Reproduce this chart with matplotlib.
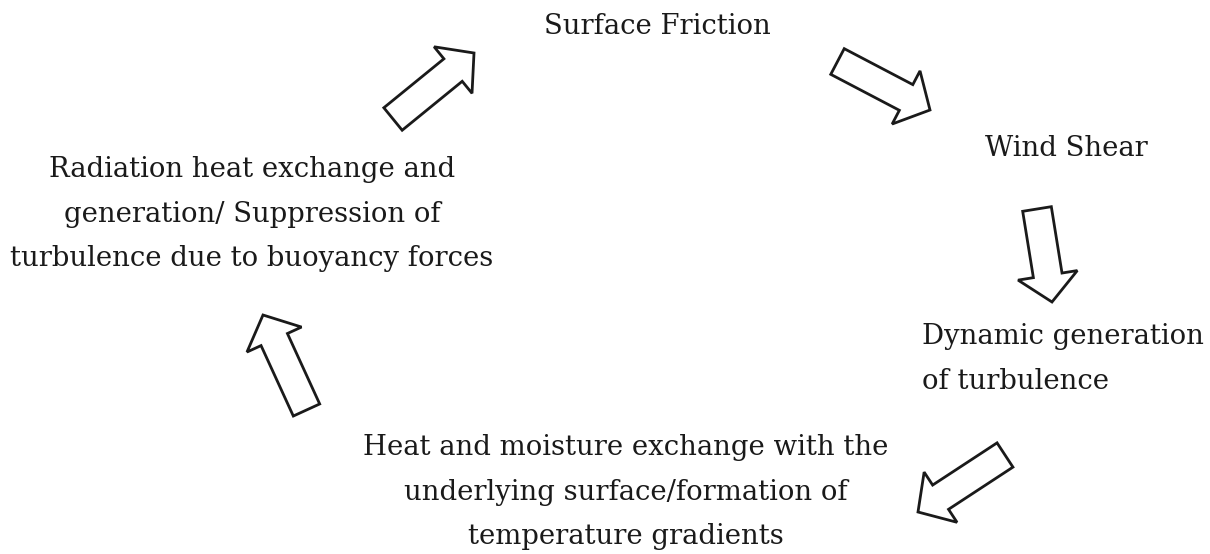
import matplotlib
matplotlib.use('Agg')
import matplotlib.pyplot as plt
import numpy as np
from matplotlib.patches import Polygon

# labels of the cycle and where they sit (pixel coords of the 1210x554 picture)
labels = ["Surface Friction",
          "Wind Shear",
          "Dynamic generation\nof turbulence",
          "Heat and moisture exchange with the\nunderlying surface/formation of\ntemperature gradients",
          "Radiation heat exchange and\ngeneration/ Suppression of\nturbulence due to buoyancy forces"]
label_x = [657, 1066, 922, 626, 252]
label_y = [27, 149, 359, 492, 214]
label_ha = ["center", "center", "left", "center", "center"]

# arrows: tail centre -> tip
tail_x = [393, 837.5, 1037, 1005, 306.5]
tail_y = [119, 61.5, 209, 455, 410]
tip_x = [474, 930, 1052, 918, 263]
tip_y = [53, 110, 302, 512, 315]
shaft_w = 29
head_w = 60
head_len = 27


def arrow_poly(x0, y0, x1, y1):
    d = np.array([x1 - x0, y1 - y0], float)
    L = np.hypot(*d)
    u = d / L
    n = np.array([-u[1], u[0]])
    p0 = np.array([x0, y0], float)
    hb = p0 + u * (L - head_len)
    pts = [p0 + n * shaft_w / 2, hb + n * shaft_w / 2, hb + n * head_w / 2,
           np.array([x1, y1], float), hb - n * head_w / 2, hb - n * shaft_w / 2,
           p0 - n * shaft_w / 2]
    return np.array(pts)


fig = plt.figure(figsize=(12.1, 5.54), dpi=100)
ax = fig.add_axes([0, 0, 1, 1])
ax.set_xlim(0, 1210)
ax.set_ylim(554, 0)
ax.axis('off')

for i in range(len(tail_x)):
    ax.add_patch(Polygon(arrow_poly(tail_x[i], tail_y[i], tip_x[i], tip_y[i]),
                         closed=True, facecolor='white', edgecolor='#1a1a1a',
                         linewidth=2.0, joinstyle='miter'))

for i in range(len(labels)):
    ax.text(label_x[i], label_y[i], labels[i], ha=label_ha[i], va='center',
            multialignment=label_ha[i], fontsize=19.8, family='DejaVu Serif',
            color='#1a1a1a', linespacing=1.85)

fig.savefig('out.png', dpi=100, facecolor='white')
